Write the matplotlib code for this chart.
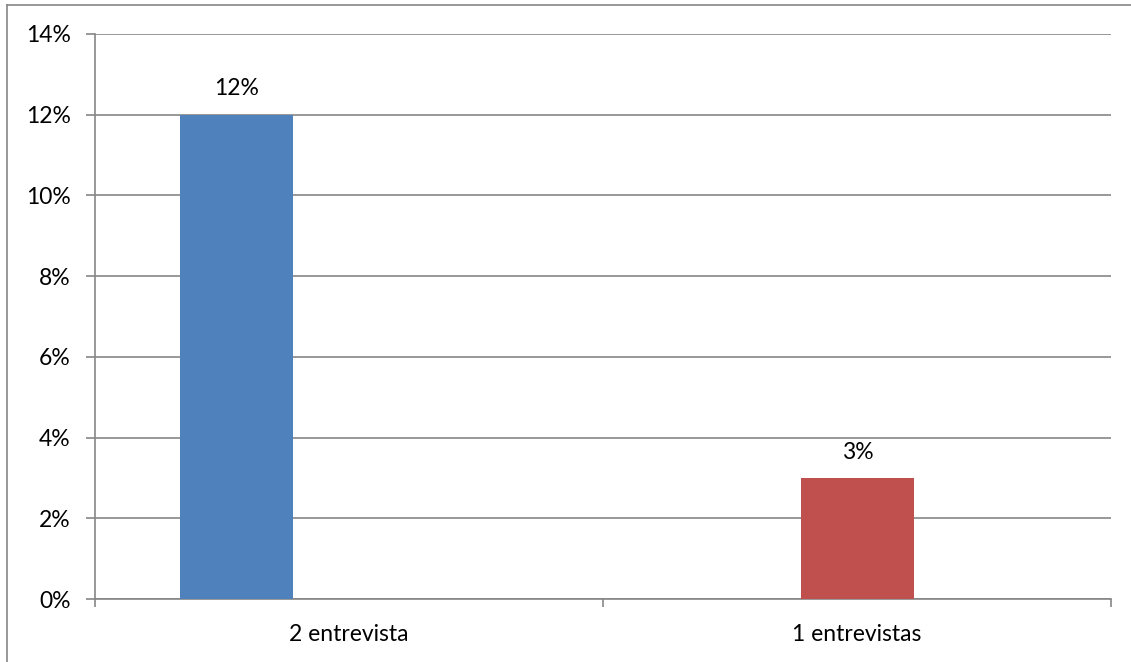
import matplotlib
matplotlib.use('Agg')
import matplotlib.pyplot as plt
from matplotlib.lines import Line2D

# Dados
categorias = ['2 entrevista', '1 entrevistas']
valores = [12, 3]
cores = ['#4F81BD', '#C0504D']

W, H = 1131, 662
fig = plt.figure(figsize=(W / 100, H / 100), dpi=100)
plt.rcParams['font.family'] = ['Lato', 'DejaVu Sans']
FS = 16.5

ax = fig.add_axes([95 / W, (H - 599) / H, (1111 - 95) / W, (599 - 34) / H])

# posições das barras dentro de cada categoria (estilo Excel)
offsets = [0.2785, 0.501]
pos = [i + off for i, off in enumerate(offsets)]
largura = 0.222
barras = ax.bar(pos, valores, width=largura, color=cores, zorder=3)

for b, v in zip(barras, valores):
    ax.text(b.get_x() + b.get_width() / 2, v + 0.38, f'{v}%',
            ha='center', va='bottom', fontsize=FS, color='#000000')

ax.set_xlim(0, len(categorias))
ax.set_ylim(0, 14)
ax.set_yticks(range(0, 15, 2))
ax.set_yticklabels([f'{t}%' for t in range(0, 15, 2)], fontsize=FS)
ax.yaxis.grid(True, color='#868686', lw=1.2, zorder=0)

ax.set_xticks(range(len(categorias) + 1))
ax.set_xticklabels([''] * (len(categorias) + 1))
ax.set_xticks([i + 0.5 for i in range(len(categorias))], minor=True)
ax.set_xticklabels(categorias, minor=True, fontsize=FS)
ax.tick_params(axis='x', which='minor', length=0, pad=18)
ax.tick_params(axis='x', which='major', length=6, width=1.2, color='#868686')
ax.tick_params(axis='y', length=6.5, width=1.2, color='#868686', pad=11)

for s in ['top', 'right']:
    ax.spines[s].set_visible(False)
for s in ['left', 'bottom']:
    ax.spines[s].set_color('#868686')
    ax.spines[s].set_linewidth(1.2)

# moldura do gráfico
fig.add_artist(Line2D([7 / W, 1], [1 - 5 / H, 1 - 5 / H], transform=fig.transFigure,
                      color='#868686', lw=1.2))
fig.add_artist(Line2D([7 / W, 7 / W], [0, 1 - 5 / H], transform=fig.transFigure,
                      color='#868686', lw=1.2))

fig.savefig('out.png', dpi=100, facecolor='white')
